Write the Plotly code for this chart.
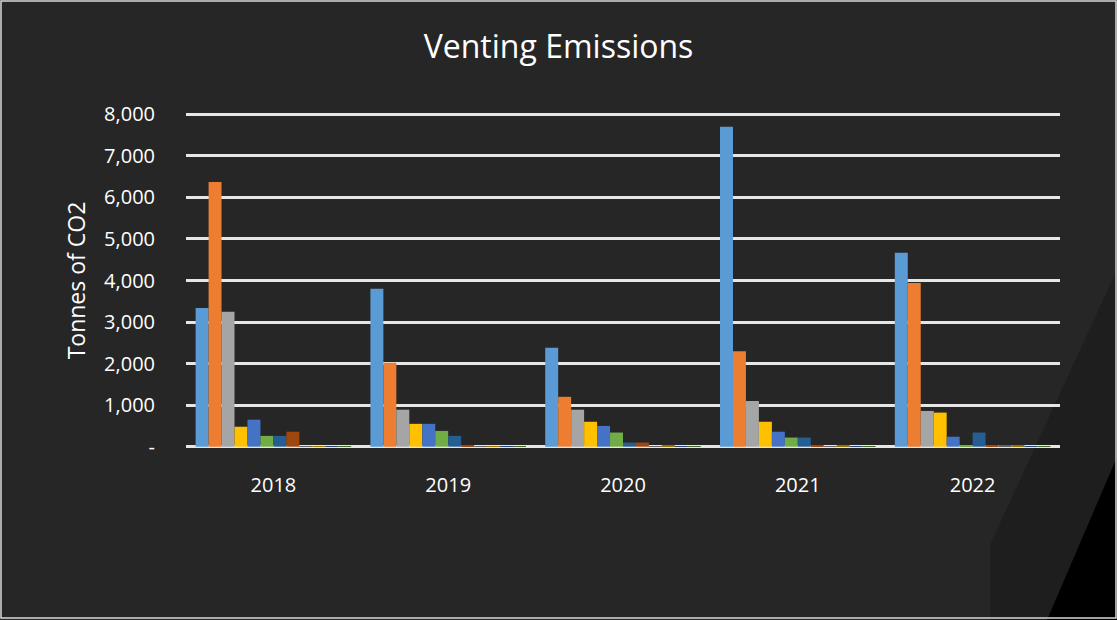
import plotly.graph_objects as go

years = ["2018", "2019", "2020", "2021", "2022"]
series_names = [f"Source {i}" for i in range(1, 13)]
s1 = [3340, 3800, 2380, 7700, 4670]
s2 = [6370, 2020, 1200, 2300, 3940]
s3 = [3250, 890, 890, 1100, 860]
s4 = [480, 550, 600, 600, 820]
s5 = [650, 550, 500, 360, 240]
s6 = [260, 380, 340, 220, 30]
s7 = [260, 260, 100, 220, 340]
s8 = [360, 30, 100, 30, 20]
s9 = [10, 10, 10, 10, 40]
s10 = [10, 10, 20, 20, 20]
s11 = [10, 10, 10, 10, 10]
s12 = [10, 10, 10, 10, 10]
series_values = [s1, s2, s3, s4, s5, s6, s7, s8, s9, s10, s11, s12]
colors = ["#5B9BD5", "#ED7D31", "#A5A5A5", "#FFC000", "#4472C4", "#70AD47",
          "#255E91", "#9E480E", "#636363", "#997300", "#264478", "#43682B"]

tick_vals = [0, 1000, 2000, 3000, 4000, 5000, 6000, 7000, 8000]
tick_text = ["-", "1,000", "2,000", "3,000", "4,000", "5,000", "6,000", "7,000", "8,000"]

W, H = 1117, 620
L, R, T, B = 186, 57, 111, 170
pw, ph = W - L - R, H - T - B

def px(x):
    return (x - L) / pw

def py(y):
    return (H - B - y) / ph

fig = go.Figure()
for name, vals, col in zip(series_names, series_values, colors):
    fig.add_trace(go.Bar(x=years, y=vals, name=name, marker=dict(color=col, line=dict(width=0))))

shapes = [
    dict(type="path", xref="paper", yref="paper", layer="below",
         path=f"M {px(1117)} {py(270)} L {px(990)} {py(545)} L {px(990)} {py(620)} L {px(1117)} {py(620)} Z",
         fillcolor="#1e1e1e", line=dict(width=0)),
    dict(type="path", xref="paper", yref="paper", layer="below",
         path=f"M {px(1117)} {py(457)} L {px(1047)} {py(620)} L {px(1117)} {py(620)} Z",
         fillcolor="#000000", line=dict(width=0)),
    dict(type="rect", xref="paper", yref="paper", layer="above",
         x0=px(1), x1=px(1116), y0=py(618), y1=py(1),
         fillcolor="rgba(0,0,0,0)", line=dict(color="#d9d9d9", width=1.5)),
]

fig.update_layout(
    width=W, height=H,
    margin=dict(l=L, r=R, t=T, b=B),
    paper_bgcolor="#262626", plot_bgcolor="rgba(0,0,0,0)",
    barmode="group", bargap=0.11, bargroupgap=0,
    showlegend=False,
    font=dict(family="Open Sans", color="#ffffff"),
    title=dict(text="Venting Emissions", x=0.5, xref="container", xanchor="center",
               y=1 - 47 / H, yanchor="middle",
               font=dict(size=32, color="#ffffff")),
    shapes=shapes,
    xaxis=dict(showgrid=False, showline=False, ticks="", tickfont=dict(size=20, color="#ffffff"),
               ticklabelstandoff=21),
    yaxis=dict(range=[-80, 8080], tickvals=tick_vals, ticktext=tick_text,
               showgrid=True, gridcolor="#e6e6e6", gridwidth=2.5, zeroline=False,
               ticks="", tickfont=dict(size=20, color="#ffffff"), ticklabelstandoff=30,
               title=dict(text="Tonnes of CO2", font=dict(size=23, color="#ffffff"), standoff=12)),
)

fig.write_html("out.html", config={"displayModeBar": False},
               post_script="document.body.style.margin='0';document.body.style.overflow='hidden';")
